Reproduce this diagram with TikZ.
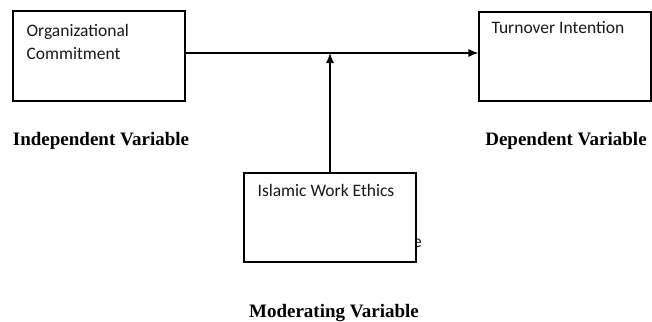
\documentclass[tikz,border=0pt]{standalone}
\usepackage{fontspec}
\setmainfont{Carlito}
\newfontfamily\labelfont{Liberation Serif}
\usetikzlibrary{arrows.meta,positioning}
\tikzset{
	varbox/.style={
		draw,
		fill=white,
		line width=1.2pt,
		minimum width=172pt,
		minimum height=90pt,
		inner sep=0pt
	},
	boxtext/.style={
		anchor=base west,
		align=left,
		inner sep=0pt,
		text=black!90,
		font=\fontsize{17.5}{23}\selectfont
	},
	varlabel/.style={
		anchor=base,
		inner sep=0pt,
		font=\labelfont\bfseries\fontsize{19}{23}\selectfont
	},
	every edge/.style={
		draw,
		-{Latex[length=10pt,width=8pt]},
		line width=1.2pt
	}
}

\begin{document}
\begin{tikzpicture}[x=1pt,y=-1pt]
		\useasboundingbox (0,0) rectangle (652,321);

		\node[boxtext] (tail) at (413,247) {e};

		\node[varbox] (oc) at (99,56) {};
		\node[varbox, minimum height=89pt] (ti) at (565,56.5) {};
		\node[varbox, minimum height=89pt] (iwe) at (330,217.5) {};

		% base of a two-line node is its last line
		\node[boxtext] (octext) at ([shift={(14,49)}]oc.north west) {Organizational\\Commitment};
		\node[boxtext] (titext) at ([shift={(13,22)}]ti.north west) {Turnover Intention};
		\node[boxtext] (iwetext) at ([shift={(14,24)}]iwe.north west) {Islamic Work Ethics};

		\node[varlabel] (indep) at (101,145) {Independent Variable};
		\node[varlabel] (dep) at (566,145) {Dependent Variable};
		\node[varlabel] (moder) at (334,317) {Moderating Variable};

		\coordinate (ocout) at ([yshift=3pt]oc.east);
		\draw (ocout) edge (ocout -| ti.west);
		\draw (iwe.north) edge (iwe.north |- ocout);

	\end{tikzpicture}
\end{document}
